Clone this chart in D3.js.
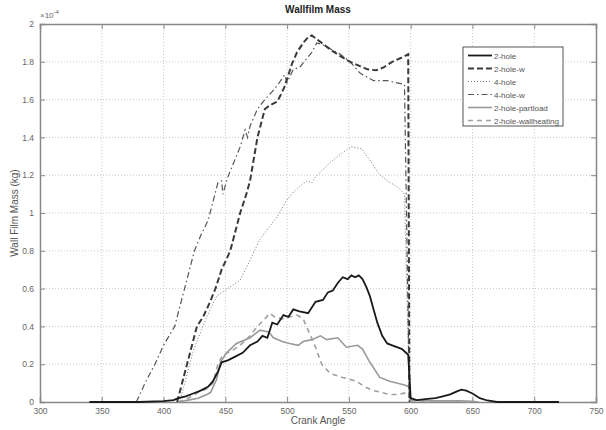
<!DOCTYPE html>
<html>
<head>
<meta charset="utf-8">
<script src="https://cdn.jsdelivr.net/npm/d3@7"></script>
<style>
  body { margin: 0; background: #fff; }
  svg { font-family: "Liberation Sans", Arial, sans-serif; }
</style>
</head>
<body>
<div id="chart"></div>
<script>
// tick values
var xTicks = [300, 350, 400, 450, 500, 550, 600, 650, 700, 750];
var yTicks = [0, 0.2, 0.4, 0.6, 0.8, 1, 1.2, 1.4, 1.6, 1.8, 2];

// wall film mass, units of 1e-4 kg
var hole2Angle = [340, 360, 380, 400, 408, 412, 418, 424, 430, 436, 440, 444, 447, 452, 458, 464, 470, 476, 480, 484, 488, 492, 497, 501, 505, 510, 517, 523, 529, 533, 537, 541, 545, 549, 552, 555, 558, 561, 564, 567, 570, 573, 577, 581, 585, 589, 593, 598, 600, 605, 612, 620, 626, 632, 637, 641, 645, 650, 656, 662, 670, 690, 720];
var hole2Mass = [0, 0, 0, 0.005, 0.01, 0.02, 0.03, 0.045, 0.06, 0.08, 0.11, 0.16, 0.21, 0.22, 0.24, 0.26, 0.3, 0.32, 0.35, 0.34, 0.42, 0.41, 0.46, 0.45, 0.49, 0.48, 0.47, 0.53, 0.54, 0.58, 0.59, 0.63, 0.66, 0.65, 0.67, 0.66, 0.67, 0.65, 0.61, 0.56, 0.49, 0.42, 0.35, 0.31, 0.3, 0.29, 0.28, 0.25, 0.02, 0.01, 0.015, 0.02, 0.03, 0.04, 0.055, 0.065, 0.06, 0.045, 0.02, 0.008, 0, 0, 0];

var hole2wAngle = [411, 415, 419, 423, 427, 432, 437, 442, 447, 454, 458, 462, 467, 470, 476, 482, 486, 492, 496, 498, 504, 508, 513, 517, 520, 524, 530, 536, 543, 551, 558, 565, 572, 578, 585, 592, 598, 599];
var hole2wMass = [0, 0.1, 0.2, 0.3, 0.4, 0.45, 0.52, 0.6, 0.7, 0.8, 0.9, 1.0, 1.1, 1.17, 1.4, 1.55, 1.57, 1.59, 1.64, 1.67, 1.79, 1.85, 1.9, 1.93, 1.94, 1.92, 1.89, 1.86, 1.83, 1.8, 1.78, 1.76, 1.755, 1.77, 1.8, 1.82, 1.84, 0];

var hole4Angle = [413, 418, 424, 430, 435, 443, 454, 462, 470, 478, 486, 492, 500, 505, 510, 516, 520, 523, 529, 537, 545, 552, 560, 567, 574, 581, 589, 595, 599];
var hole4Mass = [0, 0.12, 0.27, 0.37, 0.45, 0.56, 0.61, 0.645, 0.75, 0.86, 0.93, 0.98, 1.07, 1.11, 1.14, 1.17, 1.16, 1.19, 1.23, 1.28, 1.32, 1.35, 1.34, 1.28, 1.21, 1.17, 1.14, 1.1, 0];

var hole4wAngle = [378, 385, 393, 400, 409, 417, 425, 430, 436, 444, 447, 448, 452, 462, 466, 468, 470, 476, 482, 489, 496, 498, 500, 505, 510, 520, 524, 529, 543, 551, 559, 570, 581, 595, 599];
var hole4wMass = [0, 0.1, 0.2, 0.3, 0.4, 0.6, 0.8, 0.88, 0.96, 1.16, 1.17, 1.1, 1.19, 1.35, 1.44, 1.4, 1.46, 1.55, 1.6, 1.65, 1.71, 1.73, 1.69, 1.76, 1.77, 1.85, 1.9, 1.89, 1.84, 1.8, 1.74, 1.7, 1.7, 1.68, 0];

var partAngle = [412, 420, 428, 435, 438, 443, 446, 451, 459, 470, 478, 485, 489, 496, 502, 509, 513, 520, 527, 532, 541, 548, 557, 561, 567, 575, 583, 595, 599, 600, 620, 640, 650, 655];
var partMass = [0, 0.01, 0.02, 0.04, 0.05, 0.12, 0.21, 0.26, 0.31, 0.34, 0.38, 0.37, 0.34, 0.32, 0.31, 0.3, 0.32, 0.33, 0.35, 0.33, 0.34, 0.29, 0.3, 0.28, 0.21, 0.13, 0.11, 0.09, 0.08, 0.008, 0.006, 0.006, 0.004, 0];

var heatAngle = [412, 420, 428, 435, 440, 444, 448, 455, 462, 470, 476, 482, 486, 490, 496, 502, 508, 513, 517, 523, 528, 535, 545, 556, 563, 570, 577, 583, 590, 597, 599, 600, 620, 640, 650];
var heatMass = [0, 0.02, 0.05, 0.07, 0.1, 0.2, 0.25, 0.27, 0.3, 0.35, 0.4, 0.44, 0.47, 0.45, 0.44, 0.45, 0.46, 0.44, 0.38, 0.29, 0.2, 0.15, 0.13, 0.11, 0.08, 0.06, 0.05, 0.04, 0.04, 0.05, 0.05, 0.006, 0.005, 0.004, 0];

var seriesNames = ["2-hole", "2-hole-w", "4-hole", "4-hole-w", "2-hole-partload", "2-hole-wallheating"];

var width = 606, height = 430;
var plotLeft = 40, plotRight = 596, plotTop = 24, plotBottom = 402;

var x = d3.scaleLinear().domain([300, 750]).range([plotLeft, plotRight]);
var y = d3.scaleLinear().domain([0, 2]).range([plotBottom, plotTop]);

var svg = d3.select("#chart").append("svg")
  .attr("width", width)
  .attr("height", height);

svg.append("rect").attr("width", width).attr("height", height).attr("fill", "#fff");

// grid
svg.append("g").selectAll("line").data(xTicks.slice(1, -1)).enter().append("line")
  .attr("x1", d => x(d)).attr("x2", d => x(d))
  .attr("y1", plotTop).attr("y2", plotBottom)
  .attr("stroke", "#bbb").attr("stroke-width", 0.8).attr("stroke-dasharray", "1,2");
svg.append("g").selectAll("line").data(yTicks.slice(1, -1)).enter().append("line")
  .attr("x1", plotLeft).attr("x2", plotRight)
  .attr("y1", d => y(d)).attr("y2", d => y(d))
  .attr("stroke", "#bbb").attr("stroke-width", 0.8).attr("stroke-dasharray", "1,2");

// axes (matlab style, ticks pointing in)
var xAxis = d3.axisBottom(x).tickValues(xTicks).tickSize(-5).tickPadding(6).tickFormat(d3.format("d"));
var yAxis = d3.axisLeft(y).tickValues(yTicks).tickSize(-5).tickPadding(6).tickFormat(d => d);

var gx = svg.append("g").attr("transform", `translate(0,${plotBottom})`).call(xAxis);
var gy = svg.append("g").attr("transform", `translate(${plotLeft},0)`).call(yAxis);
var gx2 = svg.append("g").attr("transform", `translate(0,${plotTop})`)
  .call(d3.axisTop(x).tickValues(xTicks).tickSize(-5).tickFormat(""));
var gy2 = svg.append("g").attr("transform", `translate(${plotRight},0)`)
  .call(d3.axisRight(y).tickValues(yTicks).tickSize(-5).tickFormat(""));

[gx, gy, gx2, gy2].forEach(g => {
  g.select(".domain").attr("stroke", "#888").attr("stroke-width", 1.5);
  g.selectAll(".tick line").attr("stroke", "#888");
  g.selectAll("text").attr("fill", "#666").attr("font-size", "8.5px")
    .attr("font-family", "Liberation Sans, Arial, sans-serif");
});

// lines
var line = d3.line().x(d => x(d[0])).y(d => y(d[1]));
var styles = [
  { a: hole2Angle, m: hole2Mass, color: "#1a1a1a", w: 1.8, dash: null },
  { a: hole2wAngle, m: hole2wMass, color: "#3a3a3a", w: 2, dash: "6,3" },
  { a: hole4Angle, m: hole4Mass, color: "#777", w: 1, dash: "1,2" },
  { a: hole4wAngle, m: hole4wMass, color: "#555", w: 1.2, dash: "6,3,1.5,3" },
  { a: partAngle, m: partMass, color: "#999", w: 1.6, dash: null },
  { a: heatAngle, m: heatMass, color: "#a0a0a0", w: 1.6, dash: "5,4" }
];

// draw lighter ones first
[4, 5, 2, 3, 1, 0].forEach(i => {
  var s = styles[i];
  svg.append("path")
    .datum(d3.zip(s.a, s.m))
    .attr("d", line)
    .attr("fill", "none")
    .attr("stroke", s.color)
    .attr("stroke-width", s.w)
    .attr("stroke-dasharray", s.dash);
});

// exponent label
var exp = svg.append("text").attr("x", plotLeft).attr("y", 18)
  .attr("font-size", "8px").attr("fill", "#666");
exp.append("tspan").text("×10");
exp.append("tspan").attr("dy", -4).attr("font-size", "6px").text("-4");

// title and labels
svg.append("text").attr("x", 318).attr("y", 13).attr("text-anchor", "middle")
  .attr("font-size", "10px").attr("font-weight", "bold").attr("fill", "#222")
  .text("Wallfilm Mass");
svg.append("text").attr("x", 318).attr("y", 424).attr("text-anchor", "middle")
  .attr("font-size", "10px").attr("fill", "#555").text("Crank Angle");
svg.append("text").attr("transform", "translate(18,213) rotate(-90)")
  .attr("text-anchor", "middle").attr("font-size", "10px").attr("fill", "#555")
  .text("Wall Film Mass (kg)");

// legend
var legend = svg.append("g").attr("transform", "translate(463,47)");
legend.append("rect").attr("width", 100).attr("height", 79)
  .attr("fill", "#fff").attr("stroke", "#555").attr("stroke-width", 1);
seriesNames.forEach((name, i) => {
  var s = styles[i];
  var ly = 8.5 + i * 13;
  legend.append("line").attr("x1", 5).attr("x2", 29).attr("y1", ly).attr("y2", ly)
    .attr("stroke", s.color).attr("stroke-width", s.w).attr("stroke-dasharray", s.dash);
  legend.append("text").attr("x", 31).attr("y", ly + 3)
    .attr("font-size", "8px").attr("fill", "#555").text(name);
});
</script>
</body>
</html>
